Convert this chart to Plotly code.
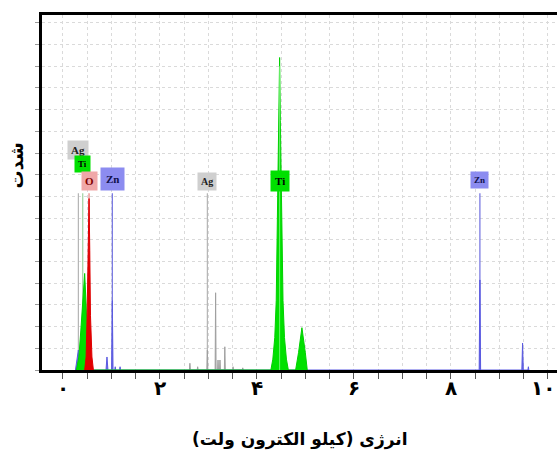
import plotly.graph_objects as go

# ---------------- data ----------------
# energy axis in keV, intensity in arbitrary units (1 unit = 1 grid step)
ti_energy = [0.28, 0.33, 0.37, 0.41, 0.45, 0.48, 0.51, 0.55,
             4.29, 4.33, 4.37, 4.40, 4.43, 4.455, 4.47, 4.485, 4.51, 4.54, 4.57, 4.61, 4.65,
             4.80, 4.86, 4.93, 5.00, 5.04]
ti_counts = [0.0, 0.6, 1.8, 3.2, 4.45, 3.0, 1.2, 0.0,
             0.0, 0.5, 1.5, 3.2, 7.2, 11.5, 14.4, 11.5, 7.2, 3.2, 1.5, 0.5, 0.0,
             0.0, 0.8, 1.95, 0.8, 0.0]

o_energy = [0.45, 0.48, 0.50, 0.52, 0.54, 0.555, 0.57, 0.60, 0.63]
o_counts = [0.0, 0.6, 2.5, 5.5, 7.9, 5.5, 2.5, 0.6, 0.0]

zn_energy = [0.26, 0.29, 0.32, 0.34, 0.36,
             0.89, 0.91, 0.93, 1.005, 1.02, 1.035, 1.07, 1.08, 1.09, 1.17, 1.18, 1.19,
             8.585, 8.60, 8.615, 9.465, 9.48, 9.495, 9.59, 9.60, 9.61]
zn_counts = [0.0, 0.5, 0.92, 0.5, 0.0,
             0.0, 0.6, 0.0, 0.0, 3.2, 0.0, 0.0, 0.15, 0.0, 0.0, 0.15, 0.0,
             0.0, 4.15, 0.0, 0.0, 1.24, 0.0, 0.0, 0.15, 0.0]

ag_energy = [2.61, 2.62, 2.63, 2.77, 2.78, 2.79, 2.97, 2.98, 2.99,
             3.14, 3.15, 3.16, 3.19, 3.20, 3.21, 3.23, 3.24, 3.25,
             3.33, 3.34, 3.35, 3.50, 3.51, 3.52, 3.70, 3.71, 3.72]
ag_counts = [0.0, 0.31, 0.0, 0.0, 0.15, 0.0, 0.0, 0.92, 0.0,
             0.0, 3.56, 0.0, 0.0, 0.46, 0.0, 0.0, 0.46, 0.0,
             0.0, 1.07, 0.0, 0.0, 0.15, 0.0, 0.0, 0.1, 0.0]

# element identification markers
marker_elements = ["Ag", "Ti", "O", "Zn", "Ag", "Ti", "Zn"]
marker_energy = [0.32, 0.41, 0.54, 1.02, 2.98, 4.47, 8.60]
marker_height = 8.15

x_tick_values = [0, 2, 4, 6, 8, 10]
x_tick_labels = ["۰", "۲", "۴", "۶", "۸", "۱۰"]

x_title = "انرژی (کیلو الکترون ولت)"
y_title = "شدت"

# ---------------- styles ----------------
colors = {
    "Ti": dict(fill="#00e000", line="#00d000", mark="#9fd09f", box="#00e000", text="#000000"),
    "O": dict(fill="#e00000", line="#e00000", mark="#e88080", box="#f0a8a8", text="#800000"),
    "Zn": dict(fill="#6a6ae8", line="#5a5ae0", mark="#7070e0", box="#8c8cf0", text="#10104a"),
    "Ag": dict(fill="#b0b0b0", line="#a0a0a0", mark="#b4b4b4", box="#cfcfcf", text="#202020"),
}
# label box centres (y in grid units) - layout only
label_y = [10.14, 9.49, 8.71, 8.80, 8.71, 8.71, 8.76]
label_size = [11, 9, 11, 11, 10, 11, 9]
label_pad = [3, 3, 3, 5, 3, 4, 3]

fig = go.Figure()

# marker lines
for el, e in zip(marker_elements, marker_energy):
    fig.add_trace(go.Scatter(x=[e, e], y=[0, marker_height], mode="lines",
                             line=dict(color=colors[el]["mark"], width=1.2),
                             hoverinfo="skip", showlegend=False))

spectra = [("Ag", ag_energy, ag_counts), ("Zn", zn_energy, zn_counts),
           ("Ti", ti_energy, ti_counts), ("O", o_energy, o_counts)]
for el, xs, ys in spectra:
    fig.add_trace(go.Scatter(x=xs, y=ys, mode="lines", fill="tozeroy",
                             fillcolor=colors[el]["fill"],
                             line=dict(color=colors[el]["line"], width=1),
                             showlegend=False, name=el))

# Ti marker line in the middle of the big peak (lighter)
fig.add_trace(go.Scatter(x=[marker_energy[5]] * 2, y=[0, 14.0], mode="lines",
                         line=dict(color="#70f070", width=1), hoverinfo="skip",
                         showlegend=False))

for el, e, yy, fs, pd in zip(marker_elements, marker_energy, label_y, label_size, label_pad):
    fig.add_annotation(x=e, y=yy, xref="x", yref="y", text=el, showarrow=False,
                       font=dict(family="Liberation Serif, DejaVu Serif, serif",
                                 size=fs, color=colors[el]["text"], weight="bold"),
                       bgcolor=colors[el]["box"], borderpad=pd,
                       xanchor="center", yanchor="middle")

# x tick labels drawn as text; the last one is kept inside the right edge
tick_font = dict(family="DejaVu Sans", size=20, color="black")
for v, t in zip(x_tick_values, x_tick_labels):
    last = (v == x_tick_values[-1])
    fig.add_annotation(x=(1.0 if last else v), y=-0.05,
                       xref=("paper" if last else "x"), yref="paper",
                       text="<b>" + t + "</b>", showarrow=False,
                       xanchor=("right" if last else "center"), yanchor="middle",
                       font=tick_font)

fig.add_annotation(text="<b>" + x_title + "</b>", xref="paper", yref="paper",
                   x=0.50, y=-0.197, showarrow=False, xanchor="center", yanchor="middle",
                   font=dict(family="DejaVu Sans", size=17, color="black"))
fig.add_annotation(text="<b>" + y_title + "</b>", xref="paper", yref="paper",
                   x=-0.05, y=0.577, showarrow=False, textangle=-90,
                   xanchor="center", yanchor="middle",
                   font=dict(family="DejaVu Sans", size=18, color="black"))

grid_col = "#dadada"
fig.update_layout(
    width=557, height=455,
    margin=dict(l=42, r=0, t=15, b=85),
    paper_bgcolor="white", plot_bgcolor="white",
    xaxis=dict(range=[-0.43, 10.19], tickvals=x_tick_values, showticklabels=False,
               ticks="outside", ticklen=6, tickcolor="#555", tickwidth=1,
               showgrid=True, gridcolor=grid_col, griddash="dot", gridwidth=1,
               minor=dict(dtick=0.5, tick0=0, ticks="outside", ticklen=6, tickcolor="#555",
                          showgrid=True, gridcolor=grid_col, griddash="dot"),
               showline=True, linecolor="black", linewidth=2.5, mirror=True,
               zeroline=False),
    yaxis=dict(range=[0, 16.36], dtick=1, tick0=0, ticks="outside", ticklen=4,
               tickcolor="#999", showticklabels=False,
               showgrid=True, gridcolor=grid_col, griddash="dot",
               showline=True, linecolor="black", linewidth=2.5, zeroline=False),
)

fig.write_html("out.html")
